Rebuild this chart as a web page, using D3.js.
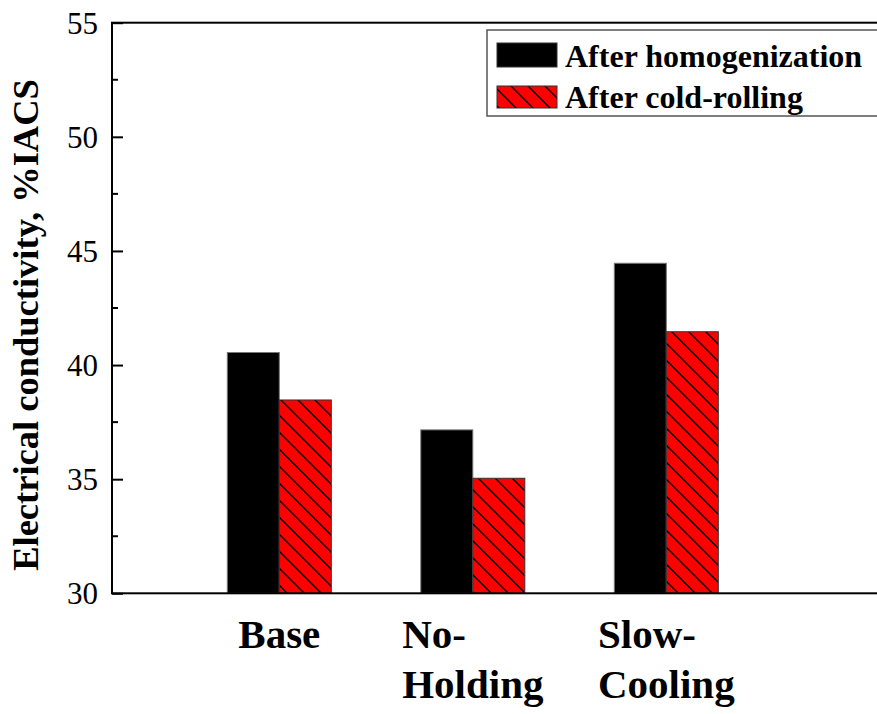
<!DOCTYPE html>
<html lang="en">
<head>
  <meta charset="UTF-8">
  <title>Electrical conductivity</title>
  <style>
    body { margin: 0; background: #fff; }
    svg text { font-family: "Liberation Serif", "Times New Roman", Tinos, "DejaVu Serif", serif; }
  </style>
</head>
<body>
  <script src="https://cdn.jsdelivr.net/npm/d3@7/dist/d3.min.js"></script>
  <script>
    // data
    const categories = ['Base', 'No-Holding', 'Slow-Cooling'];
    const catLines = [['Base'], ['No-', 'Holding'], ['Slow-', 'Cooling']];
    const series = ['After homogenization', 'After cold-rolling'];
    const homogenized = [40.55, 37.16, 44.46];
    const coldRolled = [38.47, 35.04, 41.46];
    const yTicks = [30, 35, 40, 45, 50, 55];
    const yMinor = [32.5, 37.5, 42.5, 47.5, 52.5];

    const W = 877, H = 714;
    const m = { left: 112, top: 22.7, bottom: 593.3, right: 920 }; // right edge is cut off

    const svg = d3.select('body').append('svg').attr('width', W).attr('height', H);

    const defs = svg.append('defs');
    const pat = defs.append('pattern').attr('id', 'hatch')
      .attr('patternUnits', 'userSpaceOnUse').attr('width', 17).attr('height', 17);
    pat.append('rect').attr('width', 17).attr('height', 17).attr('fill', '#ff0000');
    pat.append('path').attr('d', 'M-2,-2L19,19M-2,15L2,19M15,-2L19,2')
      .attr('stroke', '#000').attr('stroke-width', 1.4);

    const y = d3.scaleLinear().domain([30, 55]).range([m.bottom, m.top]);
    const x = d3.scalePoint().domain(categories).range([279.3, 666.3]);
    const sub = d3.scaleBand().domain(series).range([-52, 52]);

    const rows = categories.map((c, i) => ({ cat: c, vals: [homogenized[i], coldRolled[i]] }));

    // bars
    const g = svg.append('g');
    rows.forEach(r => {
      r.vals.forEach((v, j) => {
        g.append('rect')
          .attr('x', x(r.cat) + sub(series[j]))
          .attr('y', y(v))
          .attr('width', sub.bandwidth())
          .attr('height', y(30) - y(v))
          .attr('fill', j === 0 ? '#000' : 'url(#hatch)')
          .attr('stroke', j === 0 ? '#777' : '#333')
          .attr('stroke-width', 1);
      });
    });

    // frame
    svg.append('rect')
      .attr('x', m.left).attr('y', m.top)
      .attr('width', m.right - m.left).attr('height', m.bottom - m.top)
      .attr('fill', 'none').attr('stroke', '#000').attr('stroke-width', 2);

    // y axis, ticks pointing inward
    const yAxis = d3.axisLeft(y).tickValues(yTicks).tickSizeInner(-11).tickSizeOuter(0).tickPadding(14);
    const ya = svg.append('g').attr('transform', `translate(${m.left},0)`).call(yAxis);
    ya.attr('font-family', null);
    ya.select('.domain').remove();
    ya.selectAll('.tick line').attr('stroke-width', 2);
    ya.selectAll('.tick text').attr('font-size', 31).attr('fill', '#000').attr('dy', '0.34em');

    svg.append('g').selectAll('line').data(yMinor).join('line')
      .attr('x1', m.left).attr('x2', m.left + 6)
      .attr('y1', d => y(d)).attr('y2', d => y(d))
      .attr('stroke', '#000').attr('stroke-width', 2);

    // y label
    svg.append('text')
      .attr('transform', 'translate(38,325) rotate(-90)')
      .attr('text-anchor', 'middle')
      .attr('font-size', 36.5).attr('font-weight', 'bold')
      .text('Electrical conductivity, %IACS');

    // category labels: lines left aligned, block centred on group
    categories.forEach((c, i) => {
      const t = svg.append('text').attr('font-size', 41).attr('font-weight', 'bold');
      catLines[i].forEach((ln, k) => {
        t.append('tspan').attr('x', 0).attr('y', 648 + k * 50).text(ln);
      });
      let wmax = 0;
      t.selectAll('tspan').each(function() { wmax = Math.max(wmax, this.getComputedTextLength()); });
      t.attr('transform', `translate(${x(c) - wmax / 2},0)`);
    });

    // legend
    const lg = svg.append('g');
    lg.append('rect').attr('x', 487).attr('y', 30).attr('width', 420).attr('height', 86)
      .attr('fill', '#fff').attr('stroke', '#555').attr('stroke-width', 1.5);
    const swY = [43, 86], swH = [24, 22];
    series.forEach((s, j) => {
      lg.append('rect').attr('x', 497).attr('y', swY[j]).attr('width', 60).attr('height', swH[j])
        .attr('fill', j === 0 ? '#000' : 'url(#hatch)')
        .attr('stroke', '#333').attr('stroke-width', 1);
      lg.append('text').attr('x', 565).attr('y', swY[j] + swH[j])
        .attr('font-size', 32).attr('font-weight', 'bold').text(s);
    });
  </script>
</body>
</html>
